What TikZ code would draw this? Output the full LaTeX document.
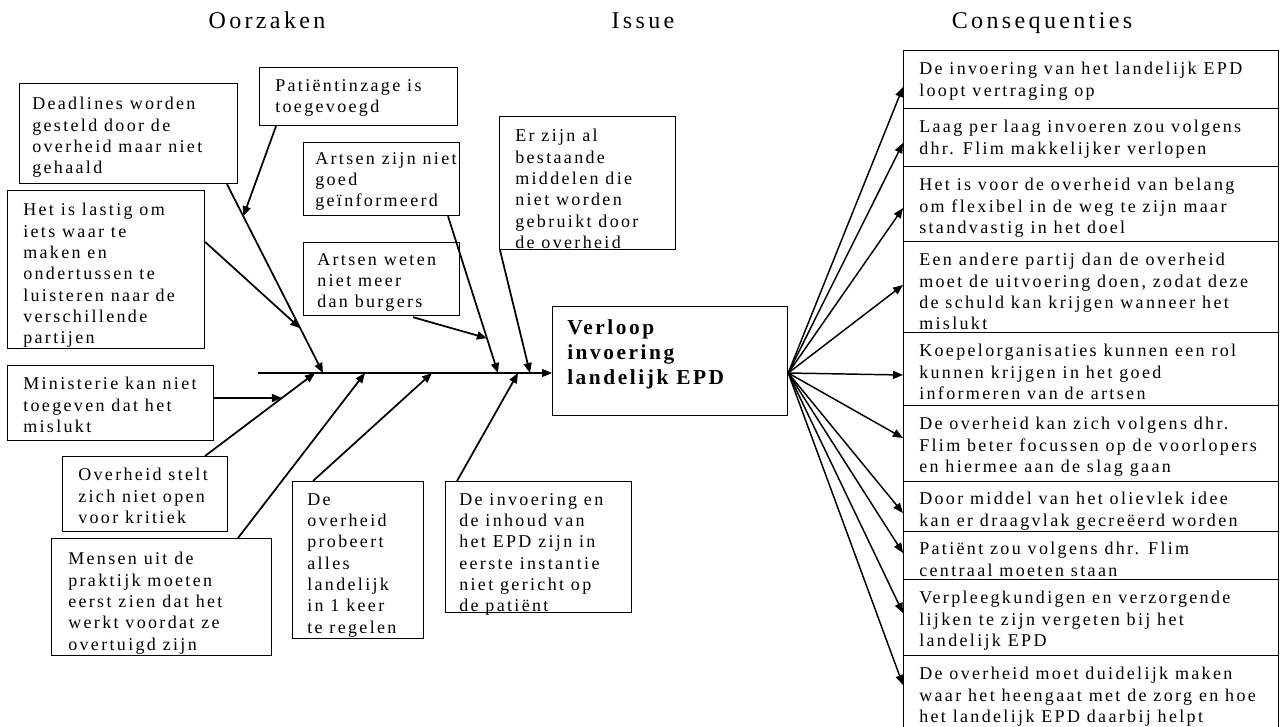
\documentclass[tikz,border=0pt]{standalone}
\usepackage{fontspec}
\setmainfont{Liberation Serif}
\newfontfamily\bodyfont{Liberation Serif}[LetterSpace=13]
\newfontfamily\headfont{Liberation Serif}[LetterSpace=14]
\newfontfamily\issuefont{Liberation Serif}[LetterSpace=12]
\usetikzlibrary{arrows.meta,calc}

\tikzset{
  box/.style={draw, line width=0.9pt, inner sep=0pt, anchor=north west},
  txt/.style={anchor=north west, inner sep=0pt, align=left,
    font=\bodyfont\fontsize{13.5}{16}\selectfont},
  issuetxt/.style={anchor=north west, inner sep=0pt, align=left,
    font=\issuefont\bfseries\fontsize{16}{18.75}\selectfont},
  head/.style={anchor=base, inner sep=0pt,
    font=\headfont\fontsize{18}{20}\selectfont},
  tip/.style={-{Triangle[length=7.5pt,width=6pt]}},
  cause/.style={tip, line width=1.3pt},
  spine/.style={tip, line width=0.8pt},
  effect/.style={tip, line width=1.1pt},
}

% box with its text: name, x, y, width, height, text offset, text
\newcommand\tbox[7]{%
  \node[box, minimum width={#4*0.75pt}, minimum height={#5*0.75pt}] (#1) at (#2,#3) {};
  \node[txt] (#1t) at ($(#1.north west)+(#6)$) {#7};
}

\begin{document}
\begin{tikzpicture}[x=0.75pt, y=-0.75pt]
\useasboundingbox (0,0) rectangle (1280,726);
\fill[white] (0,0) rectangle (1280,726);
\clip (0,0) rectangle (1280,726);

% column headings
\node[head] (h1) at (267,28) {Oorzaken};
\node[head] (h2) at (643,28) {Issue};
\node[head] (h3) at (1042,28) {Consequenties};

% causes
\tbox{dead}{19}{83}{218}{100}{13,14}{Deadlines worden\\gesteld door de\\overheid maar niet\\gehaald}
\tbox{last}{7}{190}{197}{158}{16,13}{Het is lastig om\\iets waar te\\maken en\\ondertussen te\\luisteren naar de\\verschillende\\partijen}
\tbox{pat}{259}{67}{198}{58}{16,12}{Patiëntinzage is\\toegevoegd}
\tbox{az}{303}{142}{156}{73}{12,10}{Artsen zijn niet\\goed\\geïnformeerd}
\tbox{aw}{303}{242}{156}{73}{14,11}{Artsen weten\\niet meer\\dan burgers}
\tbox{ez}{499}{116}{176}{133}{16,13}{Er zijn al\\bestaande\\middelen die\\niet worden\\gebruikt door\\de overheid}
\tbox{min}{7}{365}{206}{75}{16,12}{Ministerie kan niet\\toegeven dat het\\mislukt}
\tbox{ov}{62}{456}{165}{75}{16,12}{Overheid stelt\\zich niet open\\voor kritiek}
\tbox{me}{51}{538}{220}{117}{17,14}{Mensen uit de\\praktijk moeten\\eerst zien dat het\\werkt voordat ze\\overtuigd zijn}
\tbox{pr}{292}{481}{131}{157}{15,12}{De\\overheid\\probeert\\alles\\landelijk\\in 1 keer\\te regelen}
\tbox{inh}{445}{481}{186}{131}{14,12}{De invoering en\\de inhoud van\\het EPD zijn in\\eerste instantie\\niet gericht op\\de patiënt}

% central issue
\node[box, minimum width={235*0.75pt}, minimum height={109*0.75pt}] (issue) at (552,306) {};
\node[issuetxt] (issuet) at ($(issue.north west)+(15,13)$) {Verloop\\invoering\\landelijk EPD};

% consequences
\tbox{r1}{903}{50}{375}{58}{16,12}{De invoering van het landelijk EPD\\loopt vertraging op}
\tbox{r2}{903}{108}{375}{58}{16,12}{Laag per laag invoeren zou volgens\\dhr. Flim makkelijker verlopen}
\tbox{r3}{903}{166}{375}{75}{16,12}{Het is voor de overheid van belang\\om flexibel in de weg te zijn maar\\standvastig in het doel}
\tbox{r4}{903}{241}{375}{91}{16,12}{Een andere partij dan de overheid\\moet de uitvoering doen, zodat deze\\de schuld kan krijgen wanneer het\\mislukt}
\tbox{r5}{903}{332}{375}{73}{16,12}{Koepelorganisaties kunnen een rol\\kunnen krijgen in het goed\\informeren van de artsen}
\tbox{r6}{903}{405}{375}{76}{16,12}{De overheid kan zich volgens dhr.\\Flim beter focussen op de voorlopers\\en hiermee aan de slag gaan}
\tbox{r7}{903}{481}{375}{50}{16,11}{Door middel van het olievlek idee\\kan er draagvlak gecreëerd worden}
\tbox{r8}{903}{531}{375}{48}{16,11}{Patiënt zou volgens dhr. Flim\\centraal moeten staan}
\tbox{r9}{903}{579}{375}{76}{16,12}{Verpleegkundigen en verzorgende\\lijken te zijn vergeten bij het\\landelijk EPD}
\tbox{r10}{903}{655}{375}{90}{16,12}{De overheid moet duidelijk maken\\waar het heengaat met de zorg en hoe\\het landelijk EPD daarbij helpt}

% spine and the points where the bones meet it
\coordinate (sp0) at (258,373);
\coordinate (c1) at (323,373);
\coordinate (c2) at (498,373);
\coordinate (c3) at (530,373);
\coordinate (c4) at (315,373);
\coordinate (c5) at (365,373);
\coordinate (c6) at (432,373);
\coordinate (c7) at (518,373);
\draw[spine] (sp0) -- (issue.west |- sp0);

% bone start points on the boxes
\coordinate (deadS) at ($(dead.south west)+(208,0)$);
\coordinate (patS)  at ($(pat.south west)+(17,0)$);
\coordinate (lastS) at ($(last.north east)+(0,52)$);
\coordinate (azS)   at ($(az.south west)+(145,0)$);
\coordinate (awS)   at ($(aw.south west)+(110,1)$);
\coordinate (ezS)   at ($(ez.south west)+(1,0)$);
\coordinate (minS)  at ($(min.north east)+(0,33)$);
\coordinate (ovS)   at ($(ov.north west)+(143,0)$);
\coordinate (meS)   at ($(me.north west)+(187,0)$);
\coordinate (prS)   at ($(pr.north west)+(21,0)$);
\coordinate (inhS)  at ($(inh.north west)+(12,0)$);

\draw[cause] (deadS) -- (c1);
\draw[cause] (patS) -- ($(deadS)!0.17!(c1)$);
\draw[cause] (lastS) -- ($(deadS)!0.763!(c1)$);
\draw[cause] (azS) -- (c2);
\draw[cause] (awS) -- ($(azS)!0.778!(c2)$);
\draw[cause] (ezS) -- (c3);
\draw[cause] (ovS) -- (c4);
\draw[cause] (minS) -- ($(ovS)!0.699!(c4)$);
\draw[cause] (meS) -- (c5);
\draw[cause] (prS) -- (c6);
\draw[cause] (inhS) -- (c7);

% consequences fan out from the issue box
\coordinate (hub) at (issue.east |- sp0);
\draw[effect] (hub) -- ($(r1.north west)+(0,37)$);
\draw[effect] (hub) -- ($(r2.north west)+(0,35)$);
\draw[effect] (hub) -- ($(r3.north west)+(0,42)$);
\draw[effect] (hub) -- ($(r4.north west)+(0,44)$);
\draw[effect] (hub) -- ($(r5.north west)+(0,43)$);
\draw[effect] (hub) -- ($(r6.north west)+(0,33)$);
\draw[effect] (hub) -- ($(r7.north west)+(0,32)$);
\draw[effect] (hub) -- ($(r8.north west)+(0,22)$);
\draw[effect] (hub) -- ($(r9.north west)+(0,34)$);
\draw[effect] (hub) -- ($(r10.north west)+(0,30)$);
\end{tikzpicture}
\end{document}
